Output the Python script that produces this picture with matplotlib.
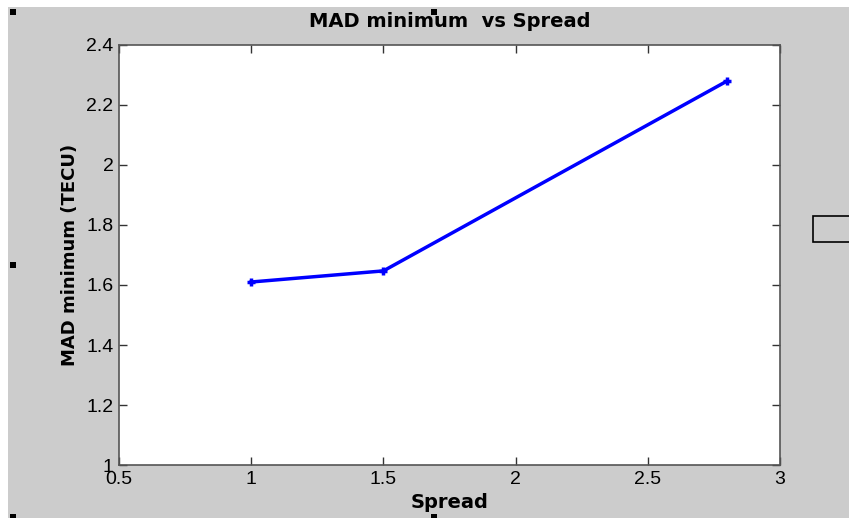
import matplotlib
matplotlib.use("Agg")
import matplotlib.pyplot as plt
from matplotlib.patches import Rectangle

# datos
spread = [1.0, 1.5, 2.8]
mad_min = [1.61, 1.647, 2.28]

xticks = [0.5, 1, 1.5, 2, 2.5, 3]
yticks = [1, 1.2, 1.4, 1.6, 1.8, 2, 2.2, 2.4]
xtick_labels = ["0.5", "1", "1.5", "2", "2.5", "3"]
ytick_labels = ["1", "1.2", "1.4", "1.6", "1.8", "2", "2.2", "2.4"]

W, H = 849, 518
gris = "#cccccc"

fig = plt.figure(figsize=(W / 100, H / 100), dpi=100, facecolor="white")

# fondo gris de la figura (con borde blanco arriba e izquierda)
fig.patches.append(Rectangle((8 / W, 0), 1 - 8 / W, 1 - 7 / H, transform=fig.transFigure,
                             facecolor=gris, edgecolor="none", zorder=-10))

ax = fig.add_axes([119 / W, 1 - 465 / H, 661 / W, 420 / H])
ax.set_facecolor("white")

ax.plot(spread, mad_min, color="#0000ff", linewidth=2.5, marker="+",
        markersize=6, markeredgewidth=2.5)

ax.set_xlim(0.5, 3)
ax.set_ylim(1, 2.4)
ax.set_xticks(xticks)
ax.set_xticklabels(xtick_labels)
ax.set_yticks(yticks)
ax.set_yticklabels(ytick_labels)

for lab in ax.get_xticklabels() + ax.get_yticklabels():
    lab.set_fontfamily("Liberation Sans")
    lab.set_fontsize(14)

ax.tick_params(direction="in", length=6, width=1, color="#333333",
               top=True, right=True, pad=4)
for s in ax.spines.values():
    s.set_color("#555555")
    s.set_linewidth(1.2)

ax.set_title("MAD minimum  vs Spread", fontsize=14, fontweight="bold", pad=13)
ax.set_xlabel("Spread", fontsize=14, fontweight="bold", labelpad=4)
ax.set_ylabel("MAD minimum (TECU)", fontsize=13, fontweight="bold", labelpad=5)

# marcas de seleccion (modo edicion)
for (x, y) in [(10, 9), (431, 9), (10, 262), (10, 514), (431, 514)]:
    fig.patches.append(Rectangle((x / W, 1 - (y + 6) / H), 6 / W, 6 / H,
                                 transform=fig.transFigure, facecolor="black",
                                 edgecolor="none", zorder=5))

# recuadro a la derecha
fig.patches.append(Rectangle((813 / W, 1 - 242 / H), 40 / W, 26 / H,
                             transform=fig.transFigure, facecolor=gris,
                             edgecolor="black", linewidth=1.2, zorder=5))

fig.savefig("out.png", dpi=100, facecolor=fig.get_facecolor())
